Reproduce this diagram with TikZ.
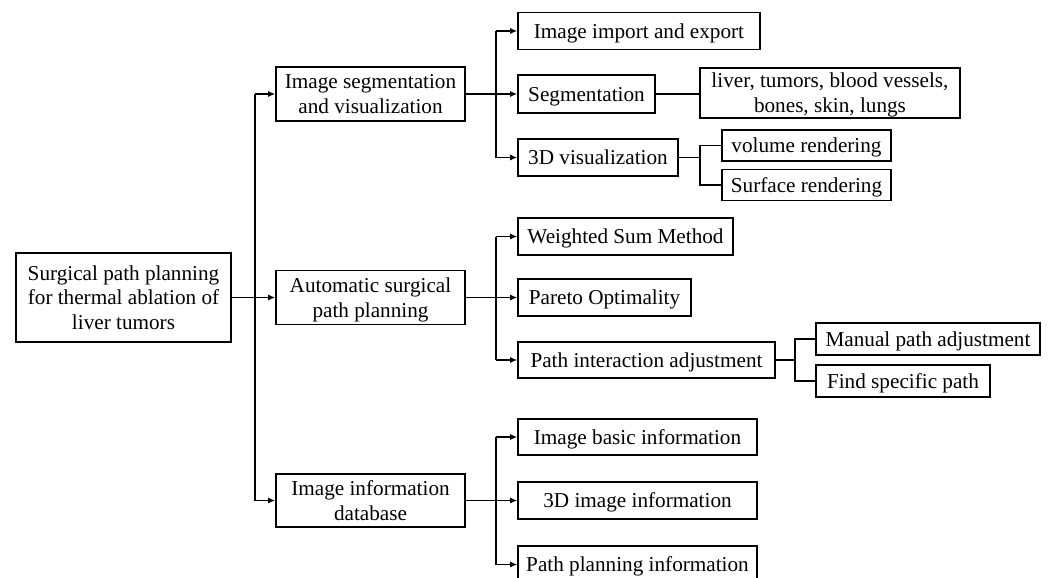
\documentclass[tikz,border=0pt]{standalone}
\usepackage{fontspec}
\setmainfont{Liberation Serif}
\usetikzlibrary{arrows.meta}
\begin{document}
\begin{tikzpicture}[x=1pt,y=-1pt,
  box/.style={draw,line width=1.6pt,inner sep=0pt,align=center,text depth=0pt,font=\fontsize{21.2}{24.8}\selectfont},
  conn/.style={line width=1.3pt},
  arr/.style={line width=1.3pt,-{Latex[length=7pt,width=6pt]}}]
\useasboundingbox (0,0) rectangle (1049,578);
% root
\node[box,minimum width=215pt,minimum height=89pt] (root) at (123.5,297.5) {Surgical path planning\\for thermal ablation of\\liver tumors};
% level 1
\node[box,minimum width=189pt,minimum height=54pt] (a) at (370.5,94) {Image segmentation\\and visualization};
\node[box,minimum width=189pt,minimum height=54pt] (b) at (370.5,297.5) {Automatic surgical\\path planning};
\node[box,minimum width=189pt,minimum height=53pt] (c) at (370.5,500.5) {Image information\\database};
% group 1
\node[box,minimum width=242pt,minimum height=37pt] (a1) at (639,31) {Image import and export};
\node[box,minimum width=137pt,minimum height=38pt] (a2) at (586.5,94) {Segmentation};
\node[box,minimum width=160pt,minimum height=37pt] (a3) at (598,157.5) {3D visualization};
\node[box,minimum width=260pt,minimum height=50pt] (a21) at (830,93) {liver, tumors, blood vessels,\\bones, skin, lungs};
\node[box,minimum width=169pt,minimum height=31pt] (a31) at (806.5,145.5) {volume rendering};
\node[box,minimum width=169pt,minimum height=31pt] (a32) at (806.5,185) {Surface rendering};
% group 2
\node[box,minimum width=215pt,minimum height=37pt] (b1) at (625.5,236.5) {Weighted Sum Method};
\node[box,minimum width=173pt,minimum height=37pt] (b2) at (604.5,297.5) {Pareto Optimality};
\node[box,minimum width=257pt,minimum height=36pt] (b3) at (646.5,360) {Path interaction adjustment};
\node[box,minimum width=224pt,minimum height=32pt] (b31) at (928,339) {Manual path adjustment};
\node[box,minimum width=174pt,minimum height=32pt] (b32) at (903,381) {Find specific path};
% group 3
\node[box,minimum width=239pt,minimum height=36pt] (c1) at (637.5,437) {Image basic information};
\node[box,minimum width=239pt,minimum height=37pt] (c2) at (637.5,500.5) {3D image information};
\node[box,minimum width=239pt,minimum height=37pt] (c3) at (637.5,564.5) {Path planning information};
% trunk coordinates
\coordinate (t0) at (255,0);
\coordinate (t1) at (496,0);
\coordinate (t2) at (700,0);
\coordinate (t3) at (795,0);
% root connectors
\draw[arr] (root.east) -- (b.west);
\draw[conn] (t0 |- a.west) -- (t0 |- c.west);
\draw[arr] (t0 |- a.west) -- (a.west);
\draw[arr] (t0 |- c.west) -- (c.west);
% group 1
\draw[conn] (a.east) -- (t1 |- a.east);
\draw[conn] (t1 |- a1.west) -- (t1 |- a3.west);
\draw[arr] (t1 |- a1.west) -- (a1.west);
\draw[arr] (t1 |- a2.west) -- (a2.west);
\draw[arr] (t1 |- a3.west) -- (a3.west);
\draw[conn] (a2.east) -- (a21.west |- a2.east);
\draw[conn] (a3.east) -- (t2 |- a3.east);
\draw[conn] (a31.west) -| (t2 |- a32.west) -- (a32.west);
% group 2
\draw[conn] (b.east) -- (t1 |- b.east);
\draw[conn] (t1 |- b1.west) -- (t1 |- b3.west);
\draw[arr] (t1 |- b1.west) -- (b1.west);
\draw[arr] (t1 |- b2.west) -- (b2.west);
\draw[arr] (t1 |- b3.west) -- (b3.west);
\draw[conn] (b3.east) -- (t3 |- b3.east);
\draw[conn] (b31.west) -| (t3 |- b32.west) -- (b32.west);
% group 3
\draw[conn] (c.east) -- (t1 |- c.east);
\draw[conn] (t1 |- c1.west) -- (t1 |- c3.west);
\draw[arr] (t1 |- c1.west) -- (c1.west);
\draw[arr] (t1 |- c2.west) -- (c2.west);
\draw[arr] (t1 |- c3.west) -- (c3.west);
\end{tikzpicture}
\end{document}
